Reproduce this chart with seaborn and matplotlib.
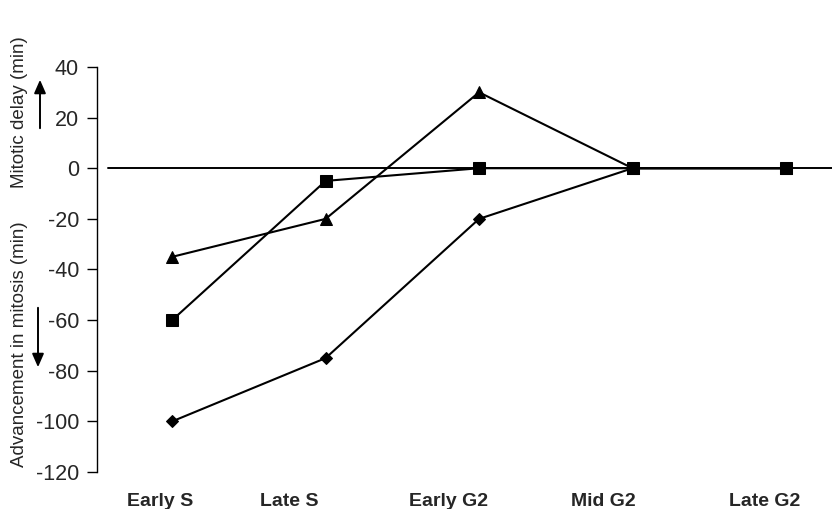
import numpy as np
import pandas as pd
import seaborn as sns
import matplotlib.pyplot as plt

sns.set_style('white')
plt.rcParams['font.family'] = ['Liberation Sans', 'DejaVu Sans']
plt.rcParams['axes.unicode_minus'] = False

phases = ['Early S', 'Late S', 'Early G2', 'Mid G2', 'Late G2']
triangle = [-35, -20, 30, 0, 0]
square = [-60, -5, 0, 0, 0]
diamond = [-100, -75, -20, 0, 0]

# labels sit a bit off the data points in the original figure
label_pos = [-0.08, 0.76, 1.80, 2.81, 3.86]

df = pd.DataFrame({
    'x': list(range(len(phases))) * 3,
    'y': triangle + square + diamond,
    'series': ['tri'] * 5 + ['sq'] * 5 + ['dia'] * 5,
})

fig = plt.figure(figsize=(8.32, 5.09), dpi=100)
ax = fig.add_axes([0.1166, 0.0727, 0.8834, 0.7957])

ax.axhline(0, xmin=0.015, xmax=1, color='black', lw=1.4, zorder=1)

sns.lineplot(data=df, x='x', y='y', hue='series', style='series',
             palette={'tri': 'black', 'sq': 'black', 'dia': 'black'},
             markers={'tri': '^', 'sq': 's', 'dia': 'D'},
             dashes=False, linewidth=1.5, markersize=8.5,
             markeredgecolor='black', legend=False, ax=ax, zorder=3)
# diamonds are drawn a bit smaller
for line in ax.lines[1:]:
    if line.get_marker() == 'D':
        line.set_markersize(6)

ax.set_xlim(-0.49, 4.3)
ax.set_ylim(-120, 40)
ax.set_yticks(np.arange(-120, 41, 20))
ax.set_xticks(label_pos)
ax.set_xticklabels(phases, fontweight='bold', fontsize=14)
ax.tick_params(axis='x', length=0, pad=15)
ax.tick_params(axis='y', direction='out', length=7, width=1, pad=6,
               labelsize=15.5, left=True, color='black')

for s in ['top', 'right', 'bottom']:
    ax.spines[s].set_visible(False)
ax.spines['left'].set_color('black')
ax.spines['left'].set_linewidth(1)
ax.set_xlabel('')
ax.set_ylabel('')

fig.text(0.024, 1 - 112 / 509, 'Mitotic delay (min)', rotation=90,
         ha='center', va='center', fontsize=13.5)
fig.text(0.024, 1 - 344 / 509, 'Advancement in mitosis (min)', rotation=90,
         ha='center', va='center', fontsize=13.5)
ax.annotate('', xy=(40 / 832, 1 - 77 / 509), xytext=(40 / 832, 1 - 131 / 509),
            xycoords='figure fraction',
            arrowprops=dict(arrowstyle='-|>,head_width=0.35,head_length=0.8',
                            color='black', lw=1.4))
ax.annotate('', xy=(38 / 832, 1 - 370 / 509), xytext=(38 / 832, 1 - 305 / 509),
            xycoords='figure fraction',
            arrowprops=dict(arrowstyle='-|>,head_width=0.35,head_length=0.8',
                            color='black', lw=1.4))

fig.savefig('out.png', dpi=100)
